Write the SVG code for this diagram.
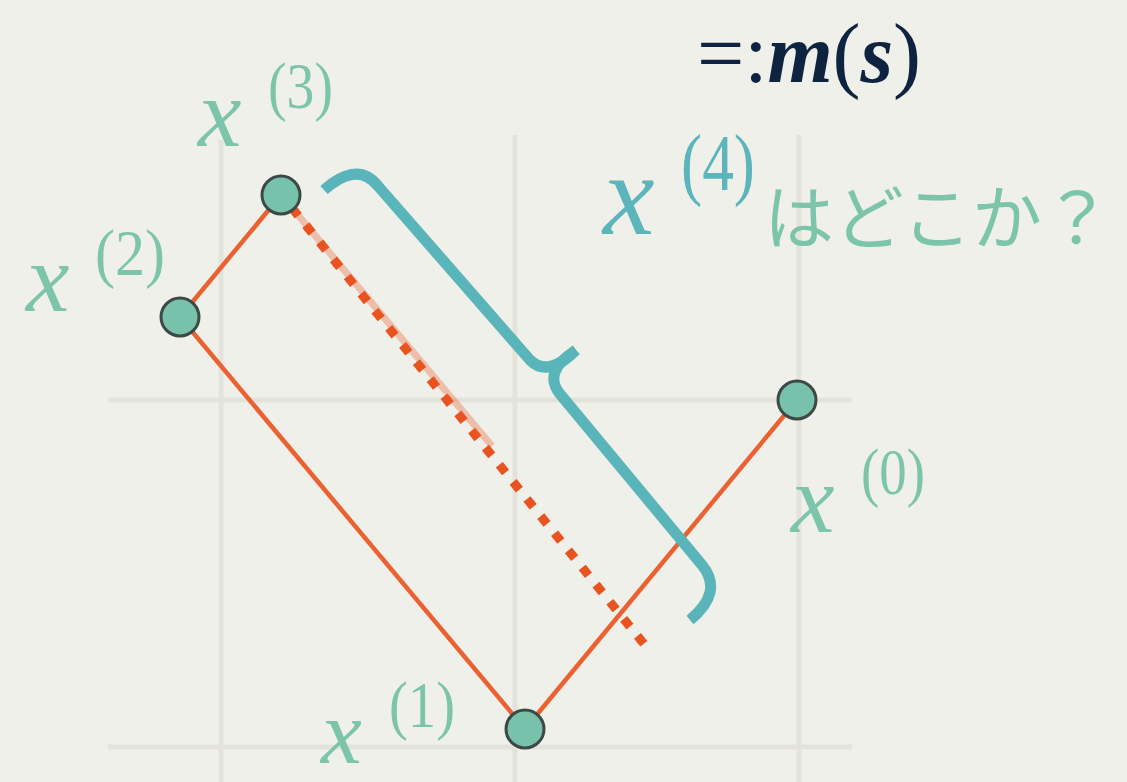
<svg xmlns="http://www.w3.org/2000/svg" width="1127" height="782" viewBox="0 0 1127 782">
<defs>
<style>
.grid{stroke:#e3e3dc;stroke-width:5;fill:none}
.edge{stroke:#ea6232;stroke-width:4.5;fill:none;stroke-linecap:round}
.pt{fill:#78c1ab;stroke:#3b4a47;stroke-width:3}
.lab{fill:#7dc5aa;font-family:"Liberation Serif",serif;font-style:italic}
.sup{font-style:normal}
.brace{stroke:#5ab5ba;stroke-width:11;fill:none;stroke-linejoin:round}
</style>
</defs>
<rect width="1127" height="782" fill="#f0f0ea"/>
<g id="grid">
<line class="grid" x1="108" y1="400" x2="852" y2="400"/>
<line class="grid" x1="108" y1="747" x2="852" y2="747"/>
<line class="grid" x1="221" y1="140" x2="221" y2="782"/>
<line class="grid" x1="515" y1="135" x2="515" y2="782"/>
<line class="grid" x1="799" y1="135" x2="799" y2="782"/>
</g>
<g id="connectors">
<line class="edge" x1="797" y1="400" x2="525" y2="729"/>
<line class="edge" x1="525" y1="729" x2="180" y2="317"/>
<line class="edge" x1="180" y1="317" x2="281" y2="195"/>
<line x1="292" y1="208" x2="492" y2="446" stroke="#ea6232" stroke-width="7" opacity="0.35"/>
<line x1="292" y1="208" x2="644" y2="644" stroke="#e8531f" stroke-width="9" stroke-dasharray="10 12"/>
</g>
<g id="brace">
<path class="brace" d="M 324 190 C 342 174 362 166 378 186 L 530 360 Q 548 378 576 350"/>
<path class="brace" d="M 576 350 Q 542 372 560 394 L 702 565 Q 724 592 690 620"/>
</g>
<g id="x0"><circle class="pt" cx="797" cy="400" r="19"/></g>
<g id="x1"><circle class="pt" cx="525" cy="729" r="19"/></g>
<g id="x2"><circle class="pt" cx="180" cy="317" r="19"/></g>
<g id="x3"><circle class="pt" cx="281" cy="195" r="19"/></g>
<g id="labels">
<text class="lab" x="198" y="146" font-size="98">x<tspan class="sup" x="268" y="108" font-size="66" textLength="65" lengthAdjust="spacingAndGlyphs">(3)</tspan></text>
<text class="lab" x="26" y="311" font-size="98">x<tspan class="sup" x="95" y="275" font-size="66" textLength="70" lengthAdjust="spacingAndGlyphs">(2)</tspan></text>
<text class="lab" x="791" y="532" font-size="98">x<tspan class="sup" x="861" y="494" font-size="66" textLength="64" lengthAdjust="spacingAndGlyphs">(0)</tspan></text>
<text class="lab" x="321" y="763" font-size="92">x<tspan class="sup" x="389" y="727" font-size="66" textLength="66" lengthAdjust="spacingAndGlyphs">(1)</tspan></text>
<text class="lab" x="603" y="234" font-size="116" style="fill:#5bb5bb">x<tspan class="sup" x="681" y="190" font-size="80" textLength="74" lengthAdjust="spacingAndGlyphs">(4)</tspan></text>
<text x="764" y="244" font-size="70" fill="#7dc5aa" font-family="'Noto Sans CJK JP',sans-serif">はどこか？</text>
<text x="697" y="82" font-size="84" fill="#0d2340" font-family="'Liberation Serif',serif" textLength="224" lengthAdjust="spacing">=:<tspan font-weight="bold" font-style="italic">m</tspan>(<tspan font-weight="bold" font-style="italic">s</tspan>)</text>
</g>
</svg>
